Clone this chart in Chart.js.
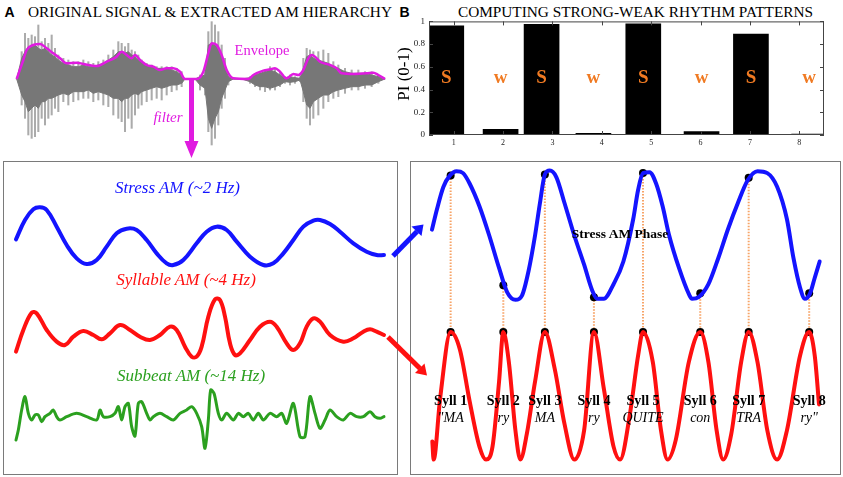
<!DOCTYPE html>
<html>
<head>
<meta charset="utf-8">
<script src="https://cdn.jsdelivr.net/npm/chart.js@4.4.0/dist/chart.umd.min.js"></script>
<style>
body{margin:0;background:#fff;}
#wrap{position:relative;width:843px;height:477px;overflow:hidden;font-family:"Liberation Serif",serif;}
canvas{position:absolute;}
.t{position:absolute;white-space:nowrap;line-height:1;transform:translate(-50%,-50%);}
.box{position:absolute;border:1px solid #7a7a7a;box-sizing:border-box;}
svg{position:absolute;left:0;top:0;}
</style>
</head>
<body>
<div id="wrap">
  <div class="t" style="left:9.5px;top:12px;font:bold 14px 'Liberation Sans',sans-serif;">A</div>
  <div class="t" style="left:210px;top:12px;font-size:15.3px;">ORIGINAL SIGNAL &amp; EXTRACTED AM HIERARCHY</div>
  <div class="t" style="left:404.5px;top:12px;font:bold 14px 'Liberation Sans',sans-serif;">B</div>
  <div class="t" style="left:635.5px;top:12px;font-size:15.3px;">COMPUTING STRONG-WEAK RHYTHM PATTERNS</div>

  <div class="box" style="left:3px;top:161px;width:395px;height:314px;"></div>
  <div class="box" style="left:410px;top:161px;width:431px;height:314px;"></div>

  <canvas id="cA" width="380" height="130" style="left:10px;top:18px;width:380px;height:130px;"></canvas>
  <canvas id="cB" width="440" height="145" style="left:395px;top:12px;width:440px;height:145px;"></canvas>
  <canvas id="cC" width="394" height="313" style="left:3px;top:161px;width:394px;height:313px;"></canvas>
  <canvas id="cD" width="431" height="313" style="left:410px;top:161px;width:431px;height:313px;"></canvas>

  <svg width="843" height="477">
    <line x1="191.5" y1="79" x2="191.5" y2="143" stroke="#e01be0" stroke-width="5"/>
    <polygon points="184.5,141 198.5,141 191.5,158" fill="#e01be0"/>
    <line x1="393" y1="256" x2="417" y2="231.5" stroke="#1414ff" stroke-width="5"/>
    <polygon points="423.5,224.5 421.5,236 411.5,226.5" fill="#1414ff"/>
    <line x1="388" y1="337" x2="420" y2="368.5" stroke="#ff1010" stroke-width="5"/>
    <polygon points="427,375.5 415,373 424.5,363.5" fill="#ff1010"/>
  </svg>

  <div class="t" style="left:262px;top:50px;font-size:14.5px;color:#e01be0;">Envelope</div>
  <div class="t" style="left:168px;top:117px;font-size:15px;font-style:italic;color:#e01be0;">filter</div>
  <div class="t" style="left:177.5px;top:187px;font-size:17px;font-style:italic;color:#1414ff;">Stress AM (~2 Hz)</div>
  <div class="t" style="left:186px;top:279px;font-size:17px;font-style:italic;color:#ff1010;">Syllable AM (~4 Hz)</div>
  <div class="t" style="left:191px;top:375px;font-size:17px;font-style:italic;color:#2ba01f;">Subbeat AM (~14 Hz)</div>
  <div class="t" style="left:620px;top:234px;font-size:13.5px;font-weight:bold;">Stress AM Phase</div>
  <div class="t" style="left:402.5px;top:74px;font-size:17px;transform:translate(-50%,-50%) rotate(-90deg);">PI (0-1)</div>
</div>

<script>
// ---- panel A: speech waveform (time in samples) ----
const waveT = [50,65,75,85,95,105,115,125,135,145,155,165,175,190,205,220,235,250,265,280,295,310,325,340,355,365,375,385,395,405,415,425,440,455,470,485,500,515,530,545,555,
  585,600,615,625,635,645,655,665,675,685,700,725,750,765,780,795,810,825,840,855,870,885,900,910,920,930,940,955,970,985,1000,1015,1035,1055,1075,1095,1115,1135,1155];
const spikeHi = [0,82,137,122,132,127,162,112,122,107,132,92,72,62,57,52,52,57,52,47,52,57,72,87,112,107,97,107,87,82,72,57,47,42,37,37,37,37,32,22,0,
  0,12,22,142,172,162,142,102,62,17,0,0,7,17,22,27,37,32,22,7,12,7,7,62,92,87,82,82,87,77,52,42,32,27,27,22,22,12,0];
const coreHi = [0,62,82,97,97,102,92,87,92,82,72,67,57,47,42,37,37,42,37,37,42,47,57,67,82,82,77,82,72,67,57,52,42,37,32,32,32,27,22,12,0,
  0,7,12,102,107,102,92,72,32,7,0,0,4,12,17,22,27,22,12,4,7,4,2,32,67,72,62,57,52,47,37,32,22,17,17,17,12,7,0];
const coreLo = [0,-48,-68,-98,-88,-78,-88,-68,-68,-58,-58,-53,-48,-43,-48,-38,-38,-38,-33,-43,-38,-43,-48,-58,-58,-68,-58,-58,-48,-43,-48,-38,-33,-28,-23,-28,-23,-18,-18,-13,0,
  0,-18,-28,-118,-148,-118,-98,-58,-33,-8,0,0,-8,-18,-23,-23,-28,-23,-18,-8,-10,-8,-3,-38,-78,-88,-68,-58,-48,-48,-38,-33,-28,-23,-23,-18,-18,-8,0];
const spikeLo = [0,-78,-118,-168,-178,-173,-158,-118,-138,-118,-108,-88,-98,-68,-78,-68,-63,-58,-58,-68,-63,-78,-83,-108,-118,-128,-158,-118,-148,-108,-88,-78,-68,-63,-58,-63,-48,-38,-33,-23,0,
  0,-33,-48,-158,-198,-178,-138,-88,-58,-18,0,0,-13,-23,-33,-38,-33,-33,-23,-13,-18,-13,-8,-68,-118,-138,-118,-108,-88,-68,-58,-53,-43,-33,-33,-28,-23,-13,0];
const envT = [50,70,80,100,120,140,160,180,200,230,250,290,320,350,365,380,395,405,420,440,460,480,500,520,540,555,590,610,625,635,650,665,680,700,745,760,790,810,825,840,860,880,895,910,925,935,945,960,990,1010,1025,1060,1100,1120,1135,1155];
const envA = [0,57,87,102,105,92,77,62,47,49,45,39,52,67,82,72,62,72,57,42,37,27,32,32,22,0,0,22,77,107,102,72,27,2,0,12,25,29,32,22,2,15,12,27,62,72,67,52,42,32,17,15,17,19,12,0];

// ---- panel B: prominence index per syllable ----
const syllableNumbers = ['1','2','3','4','5','6','7','8'];
const xTickValues = [1,2,3,4,5,6,7,8];
const barPos = [0.85,1.95,2.78,3.83,4.84,6.02,7.02,8.2];
const piValues = [0.96,0.05,0.975,0.015,0.978,0.03,0.889,0.008];
const stressLetters = ['S','w','S','w','S','w','S','w'];
const yTickValues = [0,0.2,0.4,0.6,0.8,1];
const yTickLabels = ['0','0.2','0.4','0.6','0.8','1'];

// ---- bottom left: AM hierarchy ----
const stressT = [48,75,100,120,140,170,200,230,260,290,320,350,380,410,440,470,500,520,550,590,620,650,680,710,750,790,820,850,880,910,940,960,990,1020,1060,1100,1130,1152];
const stressA = [-8,50,82,88,80,30,-25,-65,-82,-70,-30,10,24,20,-10,-50,-80,-85,-70,-20,15,30,20,-15,-60,-85,-80,-50,-10,30,48,50,38,15,-20,-45,-55,-55];
const syllT = [48,70,95,110,140,170,195,220,250,280,305,330,360,390,420,450,480,510,530,555,575,590,605,625,645,660,675,690,705,720,750,780,810,830,860,880,900,920,940,960,990,1030,1060,1090,1110,1130,1152];
const syllA = [-50,15,67,65,15,-20,-30,-5,12,0,-13,5,30,15,-5,-15,0,25,15,-35,-65,-65,-35,55,107,105,55,-25,-60,-55,-15,25,40,25,-25,-45,-25,25,50,40,0,-20,-10,10,17,10,0];
const subT = [48,55,65,75,85,95,105,115,125,135,150,160,170,180,200,230,260,290,300,310,330,345,355,365,375,385,395,405,415,425,440,450,460,480,500,520,540,560,575,590,605,615,625,632,642,655,665,680,700,715,730,745,760,775,790,810,830,845,860,880,900,915,930,945,960,975,990,1010,1030,1050,1070,1090,1110,1125,1140,1152];
const subA = [-70,-40,20,60,10,-10,5,5,-15,0,10,20,0,-10,0,10,0,-10,20,0,0,10,30,-10,30,40,-30,-58,40,45,10,-10,0,10,0,-10,10,20,30,10,-30,-95,-10,80,70,10,-10,10,-10,10,0,10,-10,10,-10,10,0,10,-20,40,-60,-60,60,10,-35,-10,20,0,-10,10,0,0,15,0,-5,0];

// ---- bottom right: stress phase vs syllable AM ----
const phaseT = [85,100,120,140,160,180,200,230,260,290,315,340,360,380,400,415,430,445,465,490,520,550,575,590,610,640,670,700,715,730,750,770,790,810,840,870,880,900,930,960,990,1020,1050,1080,1110,1140,1170,1190,1210,1225,1240,1255,1270];
const phaseA = [17,79,149,184,197,191,159,89,-1,-101,-176,-199,-186,-111,-1,99,187,199,179,99,-1,-91,-171,-196,-196,-151,-81,49,139,191,194,159,89,-1,-101,-181,-196,-191,-151,-71,19,99,169,197,191,149,49,-71,-161,-196,-181,-131,-81];
const syllWaveT = [86,90,110,142,170,200,230,250,270,290,303,320,340,355,375,400,430,460,490,520,550,580,610,640,660,690,715,730,760,785,805,830,870,905,930,955,975,1000,1030,1053,1080,1110,1140,1170,1210,1238,1255,1268];
const syllWaveA = [-140,-196,-6,197,144,-16,-156,-196,-156,44,197,104,-106,-196,-116,44,197,84,-86,-196,-106,197,24,-156,-196,-56,124,197,104,-106,-196,-136,104,197,104,-106,-196,-116,104,197,104,-106,-196,-106,124,197,124,-26];
const syllOnsetT = [142,303,430,580,730,905,1053,1238];
const stressAtSyll = [184,-154,187,-191,191,-179,177,-179];
const syllPeak = [197,197,197,197,197,197,197,197];
const syllNames = ['Syll 1','Syll 2','Syll 3','Syll 4','Syll 5','Syll 6','Syll 7','Syll 8'];
const syllWords = ['"MA','ry','MA','ry','QUITE','con','TRA','ry"'];

Chart.defaults.font.family = '"Liberation Serif", serif';

const pts = (xs, ys) => xs.map((x, i) => ({x: x, y: ys[i]}));
const base = {
  responsive: false, animation: false, events: [],
  layout: {padding: 0},
  plugins: {legend: {display: false}, tooltip: {enabled: false}},
  elements: {point: {radius: 0}}
};

// panel A
new Chart(document.getElementById('cA'), {
  type: 'line',
  data: {datasets: [
    {type: 'bar', data: waveT.map((t, i) => ({x: t, y: [spikeLo[i], spikeHi[i]]})), backgroundColor: '#ababab', barThickness: 1.4, order: 3},
    {data: pts(waveT, coreHi), fill: '+1', backgroundColor: '#777', borderColor: '#777', borderWidth: 1, order: 2},
    {data: pts(waveT, coreLo), fill: false, borderColor: '#777', borderWidth: 1, order: 2},
    {data: pts(envT, envA), borderColor: '#e01be0', borderWidth: 2.5, cubicInterpolationMode: 'monotone', fill: false, order: 1, clip: false}
  ]},
  options: Object.assign({}, base, {
    scales: {
      x: {type: 'linear', min: 30, max: 1170, display: false, offset: false},
      y: {min: -207, max: 183, display: false}
    }
  })
});

// panel B
const framePlugin = {
  id: 'frame',
  afterDatasetsDraw(chart) {
    const {ctx, chartArea: a, scales: {x, y}} = chart;
    ctx.save();
    ctx.strokeStyle = '#444';
    ctx.lineWidth = 1;
    ctx.strokeRect(a.left + 0.5, a.top + 0.5, a.right - a.left - 1, a.bottom - a.top - 1);
    ctx.beginPath();
    y.ticks.forEach(t => {
      const py = Math.round(y.getPixelForValue(t.value)) + 0.5;
      ctx.moveTo(a.left, py); ctx.lineTo(a.left + 4, py);
      ctx.moveTo(a.right, py); ctx.lineTo(a.right - 4, py);
    });
    x.ticks.forEach(t => {
      const px = Math.round(x.getPixelForValue(t.value)) + 0.5;
      ctx.moveTo(px, a.bottom); ctx.lineTo(px, a.bottom - 4);
      ctx.moveTo(px, a.top); ctx.lineTo(px, a.top + 4);
    });
    ctx.stroke();
    ctx.fillStyle = '#f07a22';
    ctx.font = 'bold 19px "Liberation Serif"';
    ctx.textAlign = 'center';
    ctx.textBaseline = 'middle';
    barPos.forEach((p, i) => ctx.fillText(stressLetters[i], x.getPixelForValue(p), y.getPixelForValue(0.5)));
    ctx.restore();
  }
};

new Chart(document.getElementById('cB'), {
  type: 'bar',
  data: {datasets: [{data: pts(barPos, piValues), backgroundColor: '#000', barThickness: 35}]},
  options: Object.assign({}, base, {
    layout: {padding: {top: 7.5, right: 11, left: 0, bottom: 0}},
    scales: {
      x: {type: 'linear', min: 0.5, max: 8.5, offset: false,
        grid: {display: false, drawTicks: false}, border: {display: false},
        afterBuildTicks: s => { s.ticks = xTickValues.map(v => ({value: v})); },
        afterFit: s => { s.height = 22; },
        ticks: {callback: (v, i) => syllableNumbers[i], font: {size: 8}, color: '#222', padding: 3, maxRotation: 0, autoSkip: false}},
      y: {min: 0, max: 1,
        grid: {display: false, drawTicks: false}, border: {display: false},
        afterBuildTicks: s => { s.ticks = yTickValues.map(v => ({value: v})); },
        afterFit: s => { s.width = 34; },
        ticks: {callback: (v, i) => yTickLabels[i], font: {size: 9}, color: '#222', padding: 4}}
    }
  }),
  plugins: [framePlugin]
});

// bottom left
new Chart(document.getElementById('cC'), {
  type: 'line',
  data: {datasets: [
    {data: pts(stressT, stressA), yAxisID: 'yS', borderColor: '#1414ff', borderWidth: 4, tension: 0.4, borderCapStyle: 'round', clip: false},
    {data: pts(syllT, syllA), yAxisID: 'yY', borderColor: '#ff1010', borderWidth: 4, tension: 0.4, borderCapStyle: 'round', clip: false},
    {data: pts(subT, subA), yAxisID: 'yB', borderColor: '#2ba01f', borderWidth: 3, tension: 0.3, borderCapStyle: 'round', clip: false}
  ]},
  options: Object.assign({}, base, {
    scales: {
      x: {type: 'linear', min: 9, max: 1191, display: false},
      yS: {min: -712, max: 227, display: false},
      yY: {min: -417, max: 522, display: false},
      yB: {min: -172, max: 767, display: false}
    }
  })
});

// bottom right
const syllPlugin = {
  id: 'syll',
  beforeDatasetsDraw(chart) {
    const {ctx, scales: {x, yP, yA}} = chart;
    ctx.save();
    ctx.strokeStyle = '#f7a468';
    ctx.lineWidth = 2;
    ctx.setLineDash([1.5, 1.5]);
    syllOnsetT.forEach((t, i) => {
      const px = x.getPixelForValue(t);
      ctx.beginPath();
      ctx.moveTo(px, yP.getPixelForValue(stressAtSyll[i]));
      ctx.lineTo(px, yA.getPixelForValue(syllPeak[i]));
      ctx.stroke();
    });
    ctx.restore();
  },
  afterDatasetsDraw(chart) {
    const {ctx, chartArea: a, scales: {x}} = chart;
    ctx.save();
    ctx.fillStyle = '#000';
    ctx.textAlign = 'center';
    ctx.textBaseline = 'middle';
    syllOnsetT.forEach((t, i) => {
      const px = x.getPixelForValue(t);
      ctx.font = 'bold 14px "Liberation Serif"';
      ctx.fillText(syllNames[i], px, a.top + 236);
      ctx.font = 'italic 14px "Liberation Serif"';
      ctx.fillText(syllWords[i], px, a.top + 253);
    });
    ctx.restore();
  }
};

new Chart(document.getElementById('cD'), {
  type: 'line',
  data: {datasets: [
    {data: pts(phaseT, phaseA), yAxisID: 'yP', borderColor: '#1414ff', borderWidth: 4, cubicInterpolationMode: 'monotone', borderCapStyle: 'round', clip: false},
    {data: pts(syllWaveT, syllWaveA), yAxisID: 'yA', borderColor: '#ff1010', borderWidth: 4, cubicInterpolationMode: 'monotone', borderCapStyle: 'round', clip: false},
    {data: pts(syllOnsetT, stressAtSyll), yAxisID: 'yP', showLine: false, pointRadius: 4, pointBackgroundColor: '#000', pointBorderWidth: 0, clip: false},
    {data: pts(syllOnsetT, syllPeak), yAxisID: 'yA', showLine: false, pointRadius: 4, pointBackgroundColor: '#000', pointBorderWidth: 0, clip: false}
  ]},
  options: Object.assign({}, base, {
    scales: {
      x: {type: 'linear', min: 30, max: 1323, display: false},
      yP: {min: -723, max: 216, display: false},
      yA: {min: -228, max: 711, display: false}
    }
  }),
  plugins: [syllPlugin]
});
</script>
</body>
</html>
